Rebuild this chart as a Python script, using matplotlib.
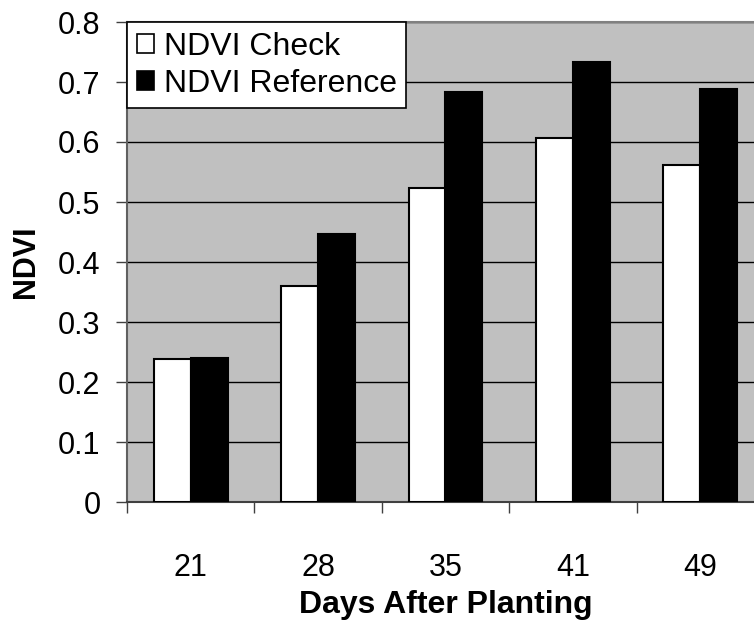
import numpy as np
import matplotlib.pyplot as plt
from matplotlib.patches import Patch

days = ['21', '28', '35', '41', '49']
ndvi_check = [0.238, 0.360, 0.524, 0.606, 0.562]
ndvi_reference = [0.240, 0.446, 0.683, 0.734, 0.689]

plt.rcParams['font.family'] = ['Liberation Sans', 'DejaVu Sans']

fig = plt.figure(figsize=(7.54, 6.23), dpi=100)
ax = fig.add_axes([127 / 754, 121 / 623, 637 / 754, 480 / 623])
ax.set_facecolor('#c0c0c0')

x = np.arange(len(days))
w = 0.29
ax.bar(x - w / 2, ndvi_check, w, color='white', edgecolor='black',
       linewidth=1.5, zorder=3)
ax.bar(x + w / 2, ndvi_reference, w, color='black', edgecolor='black',
       linewidth=1.5, zorder=3)

ax.set_xlim(-0.5, len(days) - 0.5)
ax.set_ylim(0, 0.8)
ax.set_yticks(np.arange(0, 0.81, 0.1))
ax.set_yticklabels(['0'] + ['%.1f' % v for v in np.arange(0.1, 0.81, 0.1)])
ax.yaxis.grid(True, color='black', linewidth=1.0, zorder=0)
ax.set_axisbelow(True)

# Excel style: ticks between the categories, labels at the centres
ax.set_xticks(x)
ax.set_xticklabels(days)
ax.set_xticks(np.arange(-0.5, len(days)), minor=True)
ax.tick_params(axis='x', which='major', length=0, pad=37, labelsize=22)
ax.tick_params(axis='x', which='minor', length=8, width=1, color='#404040')
ax.tick_params(axis='y', length=8, width=1, pad=11, labelsize=22,
               color='#404040')

for side in ['top', 'right']:
    ax.spines[side].set_color('#808080')
    ax.spines[side].set_linewidth(1.5)
ax.spines['left'].set_color('#606060')
ax.spines['left'].set_linewidth(1.5)
ax.spines['bottom'].set_color('#404040')
ax.spines['bottom'].set_linewidth(1.5)

ax.set_xlabel('Days After Planting', fontsize=23, fontweight='bold',
              labelpad=5)
ax.set_ylabel('NDVI', fontsize=22, fontweight='bold', labelpad=12)

handles = [Patch(facecolor='white', edgecolor='black', linewidth=1.2),
           Patch(facecolor='black', edgecolor='black', linewidth=1.2)]
leg = ax.legend(handles, ['NDVI Check', 'NDVI Reference'],
                loc='upper left', bbox_to_anchor=(0.0, 1.0),
                fontsize=23, frameon=True, fancybox=False,
                handlelength=0.55, handleheight=0.55, handletextpad=0.3,
                borderpad=0.3, labelspacing=0.22, borderaxespad=0.0)
leg.get_frame().set_edgecolor('black')
leg.get_frame().set_linewidth(1.2)
leg.get_frame().set_facecolor('white')
leg.get_frame().set_alpha(1)
leg.set_zorder(5)

fig.savefig('out.png', dpi=100, facecolor='white')
